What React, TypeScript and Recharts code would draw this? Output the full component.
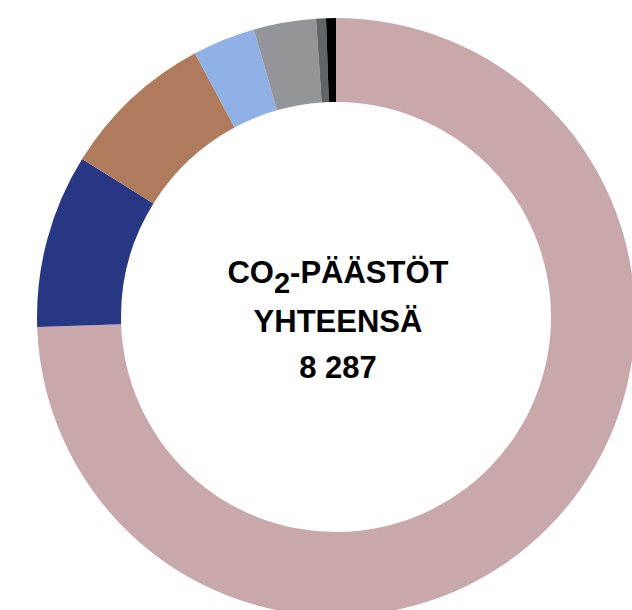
import { Cell, Pie, PieChart } from "recharts";

const sources = ["Fossiiliset polttoaineet", "Turve", "Teollisuus", "Liikenne", "Maatalous", "Muut", "Jätteet"];
const emissions = [6171, 778, 690, 281, 279, 44, 44];
const colors = ["#c9a8ab", "#283783", "#b07a5c", "#8fb1e6", "#939598", "#636466", "#000000"];
const totalLabel = "8 287";

const data = sources.map((name, i) => ({ name, value: emissions[i] }));

const CX = 336;
const CY = 317;

function CenterText() {
  const style = { fontFamily: "'Liberation Sans', Arial, sans-serif", fontWeight: 700, fill: "#000" };
  return (
    <svg
      width={632}
      height={610}
      style={{ position: "absolute", left: 0, top: 0, pointerEvents: "none" }}
    >
      <text x={CX + 2} y={CY - 34} textAnchor="middle" fontSize={31} style={style}>
        CO
        <tspan fontSize={29} dy={10}>2</tspan>
        <tspan dy={-10}>-PÄÄSTÖT</tspan>
      </text>
      <text x={CX + 2} y={CY + 15} textAnchor="middle" fontSize={31} style={style}>
        YHTEENSÄ
      </text>
      <text x={CX + 2} y={CY + 61} textAnchor="middle" fontSize={31} style={style}>
        {totalLabel}
      </text>
    </svg>
  );
}

export default function App() {
  return (
    <div style={{ position: "absolute", left: 0, top: 0, width: 632, height: 610, background: "#fff" }}>
      <PieChart width={632} height={610} margin={{ top: 0, right: 0, bottom: 0, left: 0 }}>
        <Pie
          data={data}
          dataKey="value"
          nameKey="name"
          cx={CX}
          cy={CY}
          innerRadius={215}
          outerRadius={299}
          startAngle={90}
          endAngle={-270}
          stroke="none"
          isAnimationActive={false}
        >
          {data.map((d, i) => (
            <Cell key={d.name} fill={colors[i]} />
          ))}
        </Pie>
      </PieChart>
      <CenterText />
    </div>
  );
}
